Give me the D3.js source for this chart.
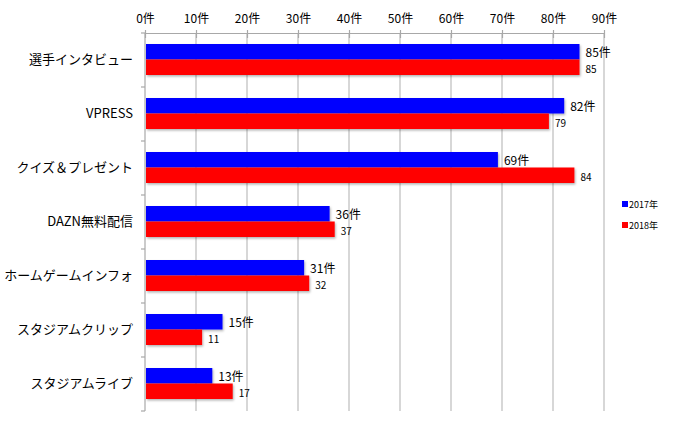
<!DOCTYPE html>
<html><head><meta charset="utf-8">
<script src="https://cdn.jsdelivr.net/npm/d3@7"></script>
<style>body{margin:0;background:#fff;}svg{display:block;font-family:"Noto Sans CJK JP","Noto Sans",sans-serif;}</style>
</head><body>
<script>
const categories = ["選手インタビュー","VPRESS","クイズ＆プレゼント","DAZN無料配信","ホームゲームインフォ","スタジアムクリップ","スタジアムライブ"];
const series2017 = [85,82,69,36,31,15,13];
const series2018 = [85,79,84,37,32,11,17];
const tickValues = [0,10,20,30,40,50,60,70,80,90];
const seriesNames = ["2017年","2018年"];
const colors = ["#0000ff","#ff0000"];

const W=685,H=426;
const svg=d3.select("body").append("svg").attr("width",W).attr("height",H);
const x=d3.scaleLinear().domain([0,90]).range([145,604]);
const y=d3.scaleBand().domain(categories).range([33,411]);
const inner=d3.scaleBand().domain([0,1]).range([11,42]);

const defs=svg.append("defs");
const f=defs.append("filter").attr("id","sh").attr("x","-5%").attr("y","-20%").attr("width","115%").attr("height","160%");
f.append("feDropShadow").attr("dx",1).attr("dy",1.5).attr("stdDeviation",0.8).attr("flood-color","#000").attr("flood-opacity",0.3);

// gridlines
svg.append("g").selectAll("line").data(tickValues.slice(1)).join("line")
  .attr("x1",d=>x(d)).attr("x2",d=>x(d)).attr("y1",33).attr("y2",411)
  .attr("stroke","#bdbdbd").attr("stroke-width",1.2);

// top axis
const ax=svg.append("g").attr("transform","translate(0,33)")
  .call(d3.axisTop(x).tickValues(tickValues).tickFormat(d=>d+"件").tickSizeInner(-6).tickSizeOuter(0).tickPadding(10));
ax.select(".domain").attr("stroke","#a8a8a8").attr("stroke-width",1.2);
ax.selectAll(".tick line").attr("stroke","#a8a8a8").attr("stroke-width",1.2).attr("y1",-3).attr("y2",5);
ax.selectAll("text").attr("font-size",12).attr("fill","#000").attr("font-family","\"Noto Sans CJK JP\",sans-serif");

// left axis
const ay=svg.append("g").attr("transform","translate(145,0)");
ay.append("line").attr("x1",0).attr("x2",0).attr("y1",33).attr("y2",411).attr("stroke","#a8a8a8").attr("stroke-width",1.2);
ay.selectAll(".tk").data(categories.map((c,i)=>y(c)+y.bandwidth()).concat([33])).join("line")
  .attr("x1",-4).attr("x2",0).attr("y1",d=>d).attr("y2",d=>d).attr("stroke","#a8a8a8").attr("stroke-width",1.2);
ay.selectAll("text").data(categories).join("text")
  .attr("x",-12).attr("y",d=>y(d)+y.bandwidth()/2+4).attr("text-anchor","end")
  .attr("font-size",13).attr("fill","#000").text(d=>d);

const data=categories.map((c,i)=>({c,v:[series2017[i],series2018[i]]}));
const g=svg.append("g");
data.forEach(d=>{
  d.v.forEach((v,k)=>{
    g.append("rect").attr("x",x(0)+1).attr("y",y(d.c)+inner(k)).attr("width",x(v)-x(0)).attr("height",inner.bandwidth())
      .attr("fill",colors[k]).attr("filter","url(#sh)");
    g.append("text").attr("x",x(v)+7).attr("y",y(d.c)+inner(k)+inner.bandwidth()/2+(k===0?5:6))
      .attr("font-size",k===0?12:10).attr("fill","#000").text(k===0?v+"件":v);
  });
});

// legend
const lg=svg.append("g");
seriesNames.forEach((n,k)=>{
  lg.append("rect").attr("x",622).attr("y",201+k*21).attr("width",6).attr("height",6).attr("fill",colors[k]);
  lg.append("text").attr("x",629).attr("y",208+k*21).attr("font-size",9).attr("fill","#000").text(n);
});
</script>
</body></html>
